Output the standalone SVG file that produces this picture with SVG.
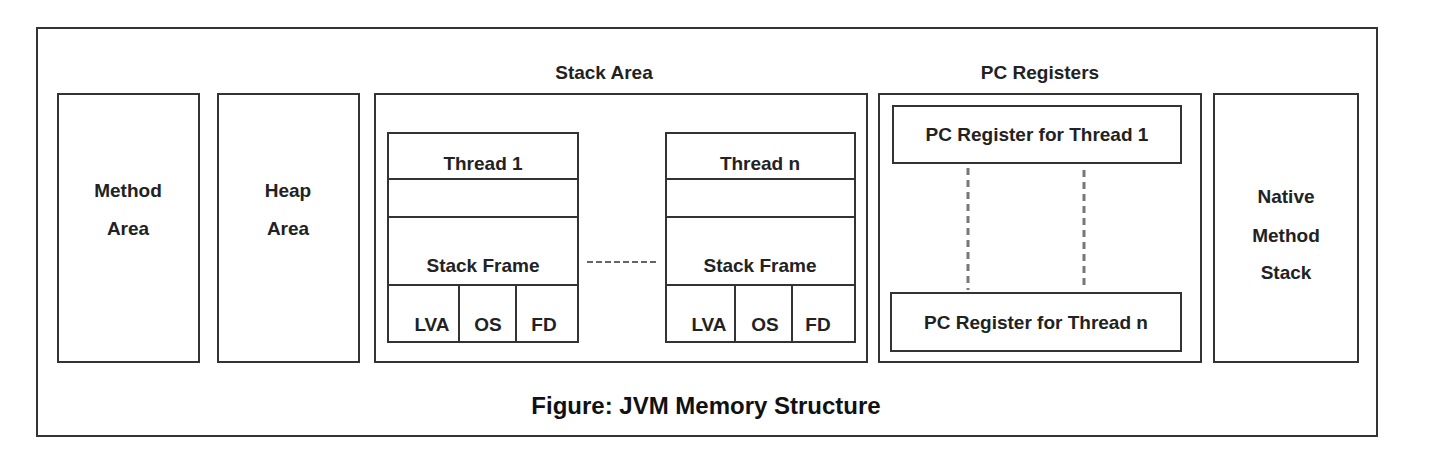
<svg xmlns="http://www.w3.org/2000/svg" width="1432" height="474" viewBox="0 0 1432 474">
<style>
rect{fill:none;stroke:#333;stroke-width:2}
line{stroke:#333;stroke-width:2}
text{font-family:"Liberation Sans",Arial,sans-serif;font-weight:bold;font-size:19px;fill:#222;text-anchor:middle}
.d{stroke:#777;stroke-width:3;stroke-dasharray:7,5}
</style>
<rect x="0" y="0" width="1432" height="474" style="fill:#fff;stroke:none"/>
<rect x="37" y="28" width="1340" height="408"/>
<g id="method"><rect x="58" y="94" width="141" height="268"/><text x="128" y="197">Method</text><text x="128" y="235">Area</text></g>
<g id="heap"><rect x="218" y="94" width="141" height="268"/><text x="288" y="197">Heap</text><text x="288" y="235">Area</text></g>
<g id="stack">
<text x="604" y="79">Stack Area</text>
<rect x="375" y="94" width="492" height="268"/>
<g id="thread1"><rect x="388" y="133" width="190" height="209"/>
<line x1="388" y1="179" x2="578" y2="179"/><line x1="388" y1="217" x2="578" y2="217"/><line x1="388" y1="285" x2="578" y2="285"/>
<line x1="459" y1="285" x2="459" y2="342"/><line x1="516" y1="285" x2="516" y2="342"/>
<text x="483" y="170">Thread 1</text><text x="483" y="272">Stack Frame</text>
<text x="432" y="331">LVA</text><text x="488" y="331">OS</text><text x="544" y="331">FD</text></g>
<g id="threadn"><rect x="666" y="133" width="189" height="209"/>
<line x1="666" y1="179" x2="855" y2="179"/><line x1="666" y1="217" x2="855" y2="217"/><line x1="666" y1="285" x2="855" y2="285"/>
<line x1="735" y1="285" x2="735" y2="342"/><line x1="792" y1="285" x2="792" y2="342"/>
<text x="760" y="170">Thread n</text><text x="760" y="272">Stack Frame</text>
<text x="709" y="331">LVA</text><text x="765" y="331">OS</text><text x="818" y="331">FD</text></g>
</g>
<g id="pc">
<text x="1040" y="79">PC Registers</text>
<rect x="879" y="94" width="322" height="268"/>
<g id="pc1"><rect x="893" y="106" width="288" height="57"/><text x="1037" y="141">PC Register for Thread 1</text></g>
<g id="pcn"><rect x="891" y="293" width="290" height="58"/><text x="1036" y="329">PC Register for Thread n</text></g>
</g>
<g id="native"><rect x="1214" y="94" width="144" height="268"/><text x="1286" y="203">Native</text><text x="1286" y="242">Method</text><text x="1286" y="279">Stack</text></g>
<g id="connectors">
<line x1="587" y1="262" x2="657" y2="262" style="stroke-dasharray:6,3;stroke-width:1.5"/>
<line class="d" x1="968" y1="168" x2="968" y2="290"/>
<line class="d" x1="1084" y1="170" x2="1084" y2="290"/>
</g>
<text x="706" y="414" style="font-size:24px;fill:#111">Figure: JVM Memory Structure</text>
</svg>
